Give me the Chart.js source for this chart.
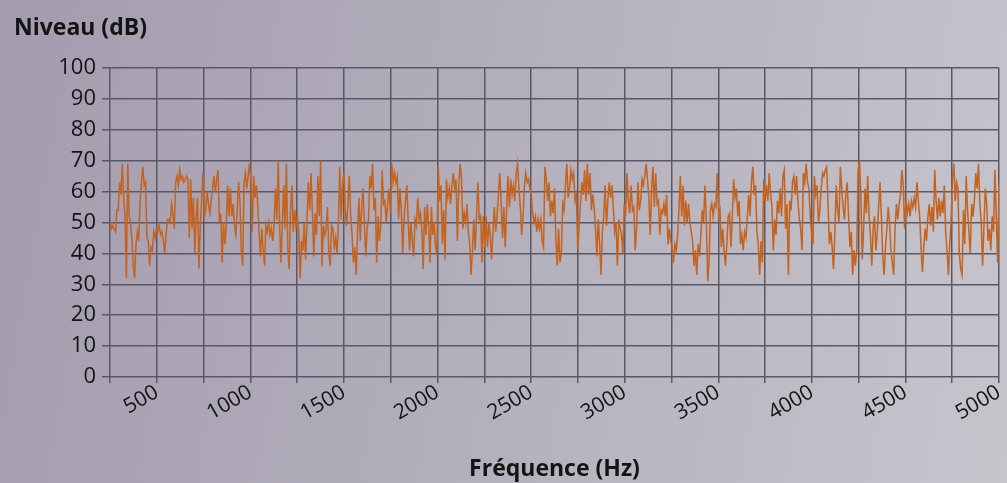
<!DOCTYPE html>
<html>
<head>
<meta charset="utf-8">
<script src="https://cdn.jsdelivr.net/npm/chart.js@4"></script>
<style>
  html, body { margin: 0; padding: 0; }
  body {
    width: 1007px; height: 483px; overflow: hidden;
    background: linear-gradient(100deg, #a39cae 0%, #b2adbb 45%, #c6c5cc 100%);
  }
  #wrap { position: relative; width: 1007px; height: 483px; }
</style>
</head>
<body>
<div id="wrap"><canvas id="chart"></canvas></div>
<script>
// DATA
const freqStart = 250;
const freqEnd = 5000;
const xTickLabels = [500, 1000, 1500, 2000, 2500, 3000, 3500, 4000, 4500, 5000];
const yTickLabels = [0, 10, 20, 30, 40, 50, 60, 70, 80, 90, 100];
const yTitle = 'Niveau (dB)';
const xTitle = 'Fréquence (Hz)';

// levels, left to right
const levels = [
  51,48,49,48,47,54,54,63,59,69, 58,52,32,69,52,50,45,36,32,43, 47,44,57,63,68,62,63,45,44,36,
  42,41,47,45,48,47,49,46,47,44, 40,46,51,51,50,56,53,48,63,65, 62,67,64,
  65,63,64,65,64,45,64,48,58,40, 52,58,35,49,57,66,52,54,60,56, 53,57,61,65,60,64,67,50,53,37,
  50,43,49,62,52,61,52,56,49,46, 54,63,57,41,36,63,66,61,65,69, 63,47,65,58,62,
  56,47,39,48,41,36,49,47,50,46, 48,44,49,61,51,70,49,37,50,62, 48,69,42,35,54,62,47,54,49,52,
  47,32,44,41,50,38,50,63,54,66, 53,39,53,46,65,52,70,36,49,46, 48,55,40,36,49,
  48,42,45,40,50,68,51,62,66,54, 49,56,65,52,46,37,42,33,47,58, 44,55,61,50,39,48,51,65,61,69,
  54,58,37,52,44,49,67,56,57,50, 56,61,53,69,63,66,63,65,51,61, 54,40,51,57,62,
  51,41,50,44,39,51,49,58,51,53, 48,35,55,46,56,49,37,55,46,50, 42,40,68,57,62,43,54,38,64,58,
  61,56,62,66,61,64,44,62,69,64, 48,53,50,56,47,43,33,41,51,41, 52,63,51,52,37,
  52,42,52,42,50,46,38,47,55,47, 52,59,66,56,45,55,42,54,65,55, 64,59,62,57,66,69,61,55,46,52,
  62,66,63,64,61,59,53,50,52,47, 51,48,51,44,42,68,64,57,63,52, 57,53,61,45,36,
  48,37,40,56,54,62,69,58,61,67, 64,66,57,59,41,49,56,63,59,67, 57,69,59,66,54,59,55,48,39,51,
  43,33,47,52,62,49,57,63,58,62, 55,47,50,36,51,48,46,40,56,52, 66,57,53,62,54,
  55,41,48,63,54,57,64,62,65,69, 64,58,46,61,68,55,66,56,57,46, 54,53,56,52,59,43,48,44,42,37,
  43,41,46,54,65,52,62,49,57,50, 56,50,47,44,36,41,33,43,39,46, 54,50,62,51,31,
  37,54,56,52,56,55,66,52,54,42, 48,41,36,43,52,53,42,52,64,58, 61,52,57,43,46,41,47,45,52,59,
  52,63,68,59,62,47,43,33,44,37, 64,57,62,57,66,59,55,41,51,46, 57,53,61,52,65,
  67,48,56,33,57,54,63,65,59,65, 57,51,48,41,66,63,69,63,61,52, 46,43,65,59,62,50,54,61,66,65,
  67,68,56,43,47,42,35,47,62,54, 50,68,61,55,51,59,63,52,42,47, 33,41,36,41,67,
  70,59,38,48,61,53,65,52,46,36, 48,52,41,47,55,63,52,39,33,42, 48,55,50,41,37,33,48,56,51,56,
  59,67,62,48,57,53,56,52,57,55, 58,55,63,57,52,42,34,42,48,44, 52,56,49,55,47,
  67,57,51,58,52,57,53,62,47,41, 33,43,51,64,69,57,63,61,40,35, 33,54,43,65,54,47,40,56,52,57,
  66,61,69,56,50,36,49,61,56,44, 48,41,52,47,67,52,37,63
];

// evenly spaced sampling between the two ends
const step = (freqEnd - freqStart) / (levels.length - 1);
let points = levels.map((v, i) => ({ x: freqStart + i * step, y: v }));

const FONT = '"Open Sans", "Noto Sans", sans-serif';
const TEXT = '#141414';
const GRID = '#5a5866';

// draws the horizontal y title at the top left
const yTitlePlugin = {
  id: 'yTitle',
  afterDraw(chart) {
    let ctx = chart.ctx;
    ctx.save();
    ctx.font = 'bold 23px ' + FONT;
    ctx.fillStyle = TEXT;
    ctx.textBaseline = 'middle';
    ctx.textAlign = 'left';
    ctx.fillText(yTitle, 14, 28);
    ctx.restore();
  }
};

new Chart(document.getElementById('chart'), {
  type: 'line',
  data: {
    datasets: [{
      data: points,
      borderColor: '#c5621d',
      borderWidth: 1.5,
      pointRadius: 0,
      tension: 0,
      fill: false
    }]
  },
  options: {
    responsive: true,
    maintainAspectRatio: false,
    animation: false,
    events: [],
    layout: { padding: { left: 0, right: 8, top: 68, bottom: 0 } },
    plugins: {
      legend: { display: false },
      tooltip: { enabled: false },
      title: { display: false }
    },
    scales: {
      x: {
        type: 'linear',
        min: freqStart,
        max: freqEnd,
        afterFit: (scale) => {
          scale.height = 106;
          scale.paddingRight = 0;
        },
        grid: { color: GRID, lineWidth: 1.5, tickLength: 6 },
        border: { display: false },
        ticks: {
          stepSize: 250,
          autoSkip: false,
          maxRotation: 30,
          minRotation: 30,
          padding: -3,
          color: TEXT,
          font: { family: FONT, size: 21 },
          callback: (value) => xTickLabels.includes(value) ? String(value) : ''
        },
        title: {
          display: true,
          text: xTitle,
          color: TEXT,
          font: { family: FONT, size: 23, weight: 'bold' },
          padding: { top: 0, bottom: 0 }
        }
      },
      y: {
        min: 0,
        max: 100,
        afterFit: (scale) => { scale.width = 110; },
        grid: { color: GRID, lineWidth: 1.5, tickLength: 8 },
        border: { display: false },
        ticks: {
          stepSize: 10,
          padding: 6,
          color: TEXT,
          font: { family: FONT, size: 22 },
          callback: (value) => yTickLabels.includes(value) ? String(value) : ''
        }
      }
    }
  },
  plugins: [yTitlePlugin]
});
</script>
</body>
</html>
